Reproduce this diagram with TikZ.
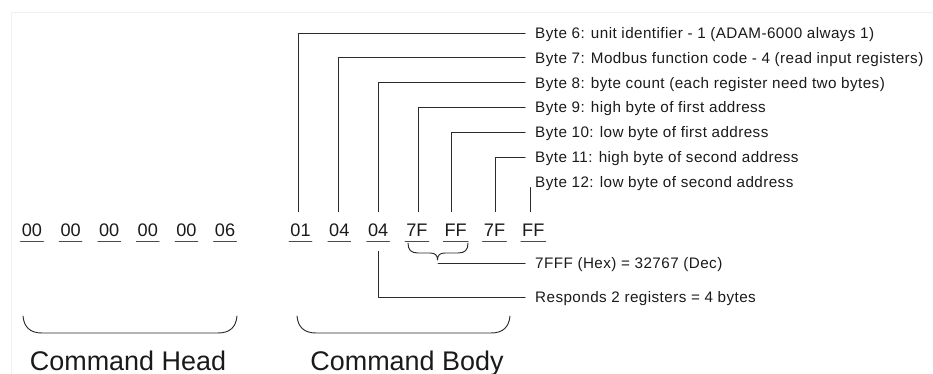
\documentclass[tikz,border=0pt]{standalone}
\usepackage{fontspec}
\setmainfont{Liberation Sans}
\usepackage{xcolor}
\usepackage{tikz}
\usetikzlibrary{calc}
\definecolor{diagline}{HTML}{2B2B2B}
\definecolor{diagtext}{HTML}{1A1A1A}
\definecolor{framegray}{HTML}{F0F0F0}
\tikzset{
every picture/.style={line cap=round,line join=round},
byte val/.style={
  font=\fontsize{15.5}{18}\selectfont,
  text=diagtext,
  inner xsep=0.8pt,
  inner ysep=0pt,
  text height=11.1pt,
  text depth=0pt,
  anchor=base
},
byte note/.style={
  font=\fontsize{13}{15}\selectfont\addfontfeature{LetterSpace=2.8},
  text=diagtext,
  inner sep=0pt,
  text height=9.3pt,
  text depth=0pt,
  anchor=west
},
group title/.style={font=\fontsize{23}{27}\selectfont, text=diagtext, inner sep=0pt, anchor=base},
lead line/.style={draw=diagline, line width=0.8pt},
byte rule/.style={draw=diagline!85, line width=1pt},
group brace/.style={draw=diagline, line width=0.8pt}
}

\begin{document}
\begin{tikzpicture}[x=0.03cm,y=-0.03cm]
\useasboundingbox (0,0) rectangle (933,374);
\draw[framegray,line width=0.8pt] (11,374) -- (11,12) -- (933,12);
% command head bytes
\foreach \v [count=\i] in {00,00,00,00,00,06}
  \node[byte val] (h\i) at ({32+38.6*(\i-1)},236.5) {\v};
% command body bytes
\foreach \v [count=\i from 6] in {01,04,04,7F,FF,7F,FF}
  \node[byte val] (b\i) at ({300.5+38.8*(\i-6)},236.5) {\v};
\foreach \n in {h1,h2,h3,h4,h5,h6,b6,b7,b8,b9,b10,b11,b12}
  \draw[byte rule] ([yshift=-4pt]\n.base west) -- ([yshift=-4pt]\n.base east);
% byte notes
\foreach \txt [count=\i from 6] in {
  {Byte 6: unit identifier - 1 (ADAM-6000 always 1)},
  {Byte 7: Modbus function code - 4 (read input registers)},
  {Byte 8: byte count (each register need two bytes)},
  {Byte 9: high byte of first address},
  {Byte 10: low byte of first address},
  {Byte 11: high byte of second address},
  {Byte 12: low byte of second address}}
  \node[byte note] (n\i) at (535,{33+24.8*(\i-6)}) {\txt};
\node[byte note] (nhex) at (535,263) {7FFF (Hex) = 32767 (Dec)};
\node[byte note] (nresp) at (535,297) {Responds 2 registers = 4 bytes};
% leader lines
\foreach \i/\dx in {6/-2,7/-1,8/0.5,9/2,10/-4.5,11/1}
  \draw[lead line,shorten <=10pt,shorten >=8.5pt] ($(b\i.north)+(\dx,0)$) |- (n\i.west);
\draw[lead line,shorten <=10pt] ($(b12.north)+(-2.6,0)$) -- ($(b12.north |- n12.south)+(-2.6,0)$);
\draw[lead line,shorten <=12.4pt,shorten >=8.5pt] (b8.south) |- (nresp.west);
% brace under 7F FF
\draw[group brace] (408,243) .. controls (408,250) and (411,253) .. (418,253) -- (430,253)
  .. controls (435,253) and (437.5,255) .. (437.5,260)
  .. controls (437.5,255) and (440,253) .. (445,253) -- (458,253)
  .. controls (465,253) and (468,250) .. (468,243);
\coordinate (pairtip) at (438,263);
\draw[lead line,shorten >=8.5pt] (pairtip |- nhex.west) -- (nhex.west);
% group braces
\draw[group brace] (23,316) .. controls (24,327) and (30,333) .. (42,333) -- (218,333)
  .. controls (230,333) and (236,327) .. (237,316);
\draw[group brace] (297,316) .. controls (298,327) and (304,333) .. (316,333) -- (491,333)
  .. controls (503,333) and (509,327) .. (510,316);
\node[group title] (head) at (128,370) {Command Head};
\node[group title] (body) at (407,370) {Command Body};
\end{tikzpicture}
\end{document}
